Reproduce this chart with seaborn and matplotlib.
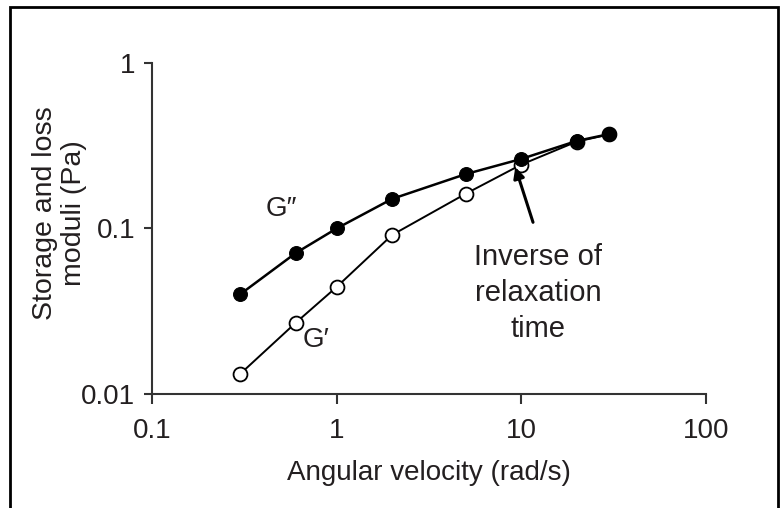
import matplotlib
matplotlib.use("Agg")
import matplotlib.pyplot as plt
from matplotlib import font_manager
import seaborn as sns
import pandas as pd

# Data
omega = [0.3, 0.6, 1.0, 2.0, 5.0, 10.0, 20.0, 30.0]
g_loss = [0.040, 0.071, 0.100, 0.151, 0.213, 0.263, 0.338, 0.372]      # G''
g_storage = [0.0132, 0.0269, 0.0443, 0.0914, 0.162, 0.243, 0.335, 0.370]  # G'
x_ticks = [0.1, 1, 10, 100]
x_ticklabels = ["0.1", "1", "10", "100"]
y_ticks = [0.01, 0.1, 1]
y_ticklabels = ["0.01", "0.1", "1"]

sns.set_theme(style="white")
names = {f.name for f in font_manager.fontManager.ttflist}
fam = [f for f in ["Liberation Sans Narrow", "Liberation Sans", "DejaVu Sans"] if f in names]
plt.rcParams['font.family'] = fam

ink = "#231f20"
fig = plt.figure(figsize=(7.84, 5.08), dpi=100)
ax = fig.add_axes([0.1939, 0.2244, 0.9001 - 0.1939, 0.876 - 0.2244])

df_loss = pd.DataFrame({"omega": omega, "G": g_loss})
df_sto = pd.DataFrame({"omega": omega, "G": g_storage})

sns.lineplot(data=df_sto, x="omega", y="G", ax=ax, color="black", lw=1.4,
             marker="o", markersize=10, markerfacecolor="white",
             markeredgecolor="black", markeredgewidth=1.3, zorder=2)
sns.lineplot(data=df_loss, x="omega", y="G", ax=ax, color="black", lw=1.8,
             marker="o", markersize=10, markerfacecolor="black",
             markeredgecolor="black", zorder=3)

ax.set_xscale("log")
ax.set_yscale("log")
ax.set_xlim(0.1, 100)
ax.set_ylim(0.01, 1)
ax.set_xticks(x_ticks)
ax.set_xticklabels(x_ticklabels)
ax.set_yticks(y_ticks)
ax.set_yticklabels(y_ticklabels)
ax.minorticks_off()
for s in ["top", "right"]:
    ax.spines[s].set_visible(False)
for s in ["left", "bottom"]:
    ax.spines[s].set_color("#333333")
    ax.spines[s].set_linewidth(1.5)
ax.tick_params(axis="x", which="major", direction="out", length=7, width=1.5,
               color="#333333", labelsize=20, labelcolor=ink, pad=10, bottom=True)
ax.tick_params(axis="y", which="major", direction="out", length=6, width=1.5,
               color="#333333", labelsize=20, labelcolor=ink, pad=6, left=True)
ax.set_xlabel("Angular velocity (rad/s)", fontsize=20, color=ink, labelpad=12)
ax.set_ylabel("Storage and loss\nmoduli (Pa)", fontsize=20.5, color=ink,
              linespacing=1.15)
ax.yaxis.set_label_coords(-0.118, 0.545)

ax.text(0.5, 0.132, "G\u2033", fontsize=20, color=ink, ha="center", va="center")
ax.text(0.77, 0.0213, "G\u2032", fontsize=20, color=ink, ha="center", va="center")
ax.text(12.4, 0.0408, "Inverse of\nrelaxation\ntime", fontsize=21, color=ink,
        ha="center", va="center", linespacing=1.35)
ax.annotate("", xy=(9.3, 0.235), xytext=(11.6, 0.109),
            arrowprops=dict(arrowstyle="-|>", color="black", lw=2.2,
                            mutation_scale=16, shrinkA=0, shrinkB=0))

# outer frame
fig.add_artist(plt.Rectangle((10 / 784, -0.05), (778 - 10) / 784, 1 - 7 / 508 + 0.05,
                             transform=fig.transFigure, fill=False,
                             edgecolor="black", lw=2))

fig.savefig("out.png", dpi=100)
